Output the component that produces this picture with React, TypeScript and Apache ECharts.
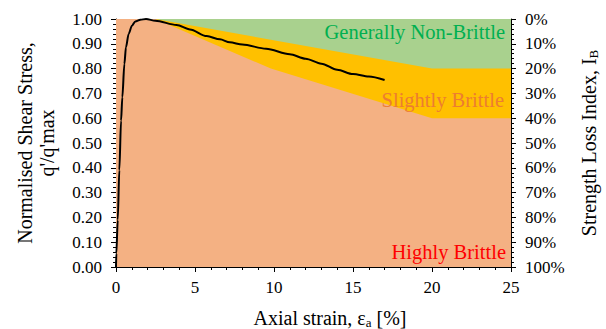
import React, { useEffect, useRef } from "react";
import * as echarts from "echarts";

const strain = [0, 0.02, 0.11, 0.21, 0.32, 0.4, 0.53, 0.63, 0.8, 1.01, 1.22, 1.54, 1.9, 2.49, 3.84, 4.68, 5.74, 6.58, 7.2, 8.0, 9.5, 11.0, 12.0, 13.0, 14.0, 15.0, 16.0, 17.0];
const stress = [0, 0.055, 0.19, 0.39, 0.59, 0.684, 0.819, 0.886, 0.94, 0.973, 0.99, 0.997, 1.0, 0.993, 0.976, 0.958, 0.931, 0.918, 0.906, 0.897, 0.88, 0.858, 0.84, 0.82, 0.795, 0.778, 0.768, 0.754];

const nonBrittleTop = [[0, 1], [25, 1]];
const slightUpper = [[0, 1], [2.5, 1], [20, 0.8], [25, 0.8]];
const highUpper = [[0, 1], [2.5, 1], [9.8, 0.8], [20, 0.6], [25, 0.6]];

const FONT = "Liberation Serif";

export default function App() {
  const ref = useRef<HTMLDivElement>(null);
  useEffect(() => {
    const chart = echarts.init(ref.current!, null, { renderer: "svg" });
    const area = (data: number[][], color: string, z: number) => ({
      type: "line",
      data,
      symbol: "none",
      lineStyle: { width: 0 },
      areaStyle: { color, opacity: 1, origin: "start" },
      silent: true,
      z,
    });
    const txt = (text: string, x: number, y: number, fill: string, align: string, rot = 0, size = 20) => ({
      type: "text", x, y, rotation: rot, z: 10,
      style: { text, fill, fontFamily: FONT, fontSize: size, textAlign: align, textVerticalAlign: "middle" },
    });
    const rich = {
      m: { fontFamily: FONT, fontSize: 20, color: "#000", lineHeight: 22, verticalAlign: "middle" },
      s: { fontFamily: FONT, fontSize: 13, color: "#000", lineHeight: 22, verticalAlign: "bottom", padding: [12, 0, 0, 0] },
    };
    chart.setOption({
      animation: false,
      textStyle: { fontFamily: FONT },
      grid: { left: 116, right: 95, top: 19, bottom: 62 },
      xAxis: {
        type: "value",
        min: 0,
        max: 25,
        interval: 5,
        axisLine: { show: true, lineStyle: { color: "#000", width: 1 } },
        axisTick: { show: true, length: 5, lineStyle: { color: "#000" } },
        minorTick: { show: true, splitNumber: 5, length: 3, lineStyle: { color: "#000" } },
        splitLine: { show: false },
        axisLabel: { color: "#000", fontFamily: FONT, fontSize: 17, margin: 12 },
      },
      yAxis: [
        {
          type: "value",
          min: 0,
          max: 1,
          interval: 0.1,
          axisLine: { show: true, lineStyle: { color: "#000" } },
          axisTick: { show: true, length: 5, lineStyle: { color: "#000" } },
          minorTick: { show: true, splitNumber: 5, length: 3, lineStyle: { color: "#000" } },
          splitLine: { show: false },
          axisLabel: { color: "#000", fontFamily: FONT, fontSize: 17, margin: 14, formatter: (v: number) => v.toFixed(2) },
        },
        {
          type: "value",
          position: "right",
          min: 0,
          max: 100,
          interval: 10,
          inverse: true,
          axisLine: { show: true, lineStyle: { color: "#000" } },
          axisTick: { show: true, length: 5, lineStyle: { color: "#000" } },
          minorTick: { show: true, splitNumber: 5, length: 3, lineStyle: { color: "#000" } },
          splitLine: { show: false },
          axisLabel: { color: "#000", fontFamily: FONT, fontSize: 17, margin: 14, formatter: (v: number) => `${v}%` },
        },
      ],
      series: [
        area(nonBrittleTop, "#A9D18E", 1),
        area(slightUpper, "#FFC000", 2),
        area(highUpper, "#F4B183", 3),
        {
          type: "line",
          data: strain.map((s, i) => [s, stress[i]]),
          symbol: "none",
          smooth: 0.3,
          smoothMonotone: "x",
          lineStyle: { color: "#000", width: 2 },
          z: 5,
        },
      ],
      graphic: [
        txt("Generally Non-Brittle", 505, 32, "#00B050", "right", 0, 20.5),
        txt("Slightly Brittle", 504, 100, "#ED7D31", "right", 0, 20.5),
        txt("Highly Brittle", 506, 252, "#FF0000", "right", 0, 20.5),
        txt("Normalised Shear Stress,", 25, 143, "#000", "center", Math.PI / 2),
        txt("q'/q'max", 47, 143, "#000", "center", Math.PI / 2),
        {
          type: "text", x: 589, y: 143, rotation: Math.PI / 2, z: 10,
          style: { text: "{m|Strength Loss Index, I}{s|B}", textAlign: "center", textVerticalAlign: "middle", rich },
        },
        {
          type: "text", x: 330, y: 318, z: 10,
          style: { text: "{m|Axial strain, ε}{s|a}{m| [%]}", textAlign: "center", textVerticalAlign: "middle", rich },
        },
      ],
    });
    return () => chart.dispose();
  }, []);
  return <div ref={ref} style={{ width: 606, height: 329, position: "absolute", left: 0, top: 0 }} />;
}
